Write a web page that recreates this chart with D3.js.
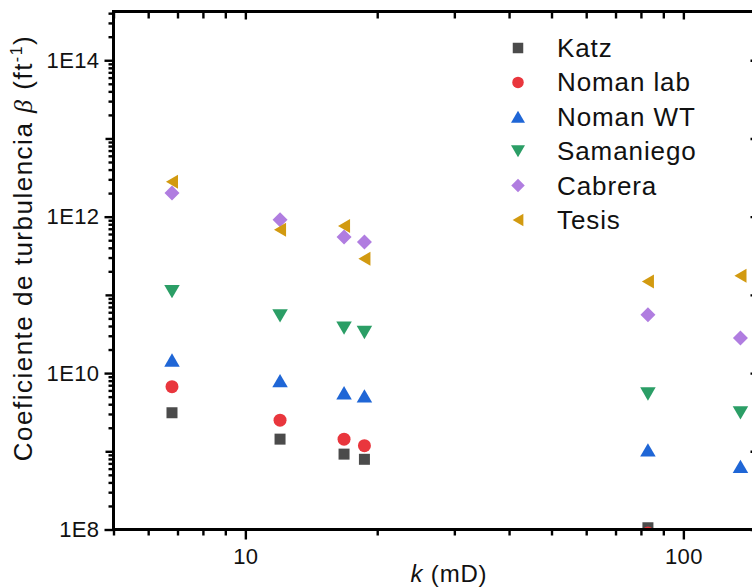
<!DOCTYPE html>
<html>
<head>
<meta charset="utf-8">
<script src="https://cdn.jsdelivr.net/npm/d3@7"></script>
<style>
  html, body { margin: 0; padding: 0; background: #fff; }
  svg { display: block; }
  text { font-family: "Liberation Sans", Arial, sans-serif; fill: #111; }
</style>
</head>
<body>
<svg id="chart" width="752" height="587"></svg>
<script>
// Permeability k (mD) of each sample
const kValues = [6.8, 12, 16.8, 18.7, 83, 135];

// Turbulence coefficient beta (ft^-1) per correlation, one value per sample
const katz      = [3.1e9, 1.43e9, 9.2e8, 7.9e8, 1.05e8, null];
const nomanLab  = [6.7e9, 2.5e9, 1.43e9, 1.18e9, 0.9e8, null];
const nomanWT   = [1.47e10, 8.0e9, 5.6e9, 5.1e9, 1.04e9, 6.4e8];
const samaniego = [1.1e11, 5.4e10, 3.75e10, 3.3e10, 5.4e9, 3.1e9];
const cabrera   = [2.0e12, 9.1e11, 5.5e11, 4.75e11, 5.55e10, 2.8e10];
const tesis     = [2.8e12, 6.8e11, 7.6e11, 2.9e11, 1.48e11, 1.75e11];

const seriesNames = ["Katz", "Noman lab", "Noman WT", "Samaniego", "Cabrera", "Tesis"];

// Axis ticks
const yLabelTicks = [1e8, 1e10, 1e12, 1e14];
const yLabelText  = ["1E8", "1E10", "1E12", "1E14"];
const xLabelTicks = [10, 100];
const xLabelText  = ["10", "100"];

// ---- layout ----
const box = { left: 113.5, right: 760.5, top: 11.5, bottom: 529.5 };

const x = d3.scaleLog().domain([5, 150]).range([box.left, box.right]);
const y = d3.scaleLog().domain([1e8, 4.2e14]).range([box.bottom, box.top]);

const svg = d3.select("#chart");

// marker shapes, centred on the origin
const shapes = {
  square: s => `M${-s/2},${-s/2}h${s}v${s}h${-s}Z`,
  circle: s => d3.symbol(d3.symbolCircle, Math.PI * (s/2) * (s/2))(),
  triUp: s => { const h = s * 0.86; return `M0,${-h/2}L${s/2},${h/2}L${-s/2},${h/2}Z`; },
  triDown: s => { const h = s * 0.86; return `M0,${h/2}L${s/2},${-h/2}L${-s/2},${-h/2}Z`; },
  diamond: s => `M0,${-s/2}L${s/2},0L0,${s/2}L${-s/2},0Z`,
  triLeft: s => { const h = s * 0.86; return `M${-h/2},0L${h/2},${-s/2}L${h/2},${s/2}Z`; }
};

const series = [
  { name: seriesNames[0], values: katz,      shape: "square",  size: 11,   color: "#4b4b4b" },
  { name: seriesNames[1], values: nomanLab,  shape: "circle",  size: 13,   color: "#e9363d" },
  { name: seriesNames[2], values: nomanWT,   shape: "triUp",   size: 15.5, color: "#1f66d6" },
  { name: seriesNames[3], values: samaniego, shape: "triDown", size: 15.5, color: "#2b9e66" },
  { name: seriesNames[4], values: cabrera,   shape: "diamond", size: 15,   color: "#b07de0" },
  { name: seriesNames[5], values: tesis,     shape: "triLeft", size: 14,   color: "#d29a10" }
];

// clip region for the plotted points
svg.append("defs").append("clipPath").attr("id", "plotClip")
  .append("rect")
  .attr("x", box.left).attr("y", box.top)
  .attr("width", box.right - box.left).attr("height", box.bottom - box.top);

// ---- points ----
const pts = svg.append("g").attr("clip-path", "url(#plotClip)");
series.forEach(s => {
  const data = kValues.map((k, i) => ({ k, v: s.values[i] })).filter(d => d.v != null);
  pts.selectAll(null).data(data).enter().append("path")
    .attr("d", shapes[s.shape](s.size))
    .attr("transform", d => `translate(${x(d.k)},${y(d.v)})`)
    .attr("fill", s.color);
});

// ---- axes ----
function minorTicks(lo, hi) {
  const out = [];
  for (let e = Math.floor(Math.log10(lo)); e <= Math.ceil(Math.log10(hi)); e++) {
    for (let m = 2; m <= 9; m++) {
      const v = m * Math.pow(10, e);
      if (v >= lo && v <= hi) out.push(v);
    }
  }
  return out;
}
const decadeTicks = (lo, hi) => d3.range(Math.ceil(Math.log10(lo)), Math.floor(Math.log10(hi)) + 1).map(e => Math.pow(10, e));

const xMinor = minorTicks(5, 150).filter(v => !xLabelTicks.includes(v));
const yMinor = minorTicks(1e8, 4.2e14);
const yDecades = decadeTicks(1e8, 4.2e14);
const yOddDecades = yDecades.filter(v => !yLabelTicks.includes(v));

function styleAxis(g) {
  g.select(".domain").remove();
  g.selectAll(".tick line").attr("stroke", "#000").attr("stroke-width", 2.4);
  g.selectAll(".tick text")
    .style("font-size", "22px").style("letter-spacing", "0.4px").attr("fill", "#111");
}

// left axis
svg.append("g").attr("transform", `translate(${box.left},0)`)
  .call(d3.axisLeft(y).tickValues(yMinor).tickSize(5).tickFormat(""))
  .call(styleAxis);
svg.append("g").attr("transform", `translate(${box.left},0)`)
  .call(d3.axisLeft(y).tickValues(yOddDecades).tickSize(8).tickFormat(""))
  .call(styleAxis);
svg.append("g").attr("transform", `translate(${box.left},0)`)
  .call(d3.axisLeft(y).tickValues(yLabelTicks).tickSize(9).tickPadding(5)
        .tickFormat((d, i) => yLabelText[i]))
  .call(styleAxis);

// right axis (inward ticks)
svg.append("g").attr("transform", `translate(${box.right},0)`)
  .call(d3.axisRight(y).tickValues(yMinor).tickSize(-5).tickFormat(""))
  .call(styleAxis);
svg.append("g").attr("transform", `translate(${box.right},0)`)
  .call(d3.axisRight(y).tickValues(yDecades).tickSize(-10).tickFormat(""))
  .call(styleAxis);

// bottom axis
svg.append("g").attr("transform", `translate(0,${box.bottom})`)
  .call(d3.axisBottom(x).tickValues(xMinor).tickSize(6).tickFormat(""))
  .call(styleAxis);
svg.append("g").attr("transform", `translate(0,${box.bottom})`)
  .call(d3.axisBottom(x).tickValues(xLabelTicks).tickSize(10).tickPadding(9)
        .tickFormat((d, i) => xLabelText[i]))
  .call(styleAxis);

// top axis (inward ticks)
svg.append("g").attr("transform", `translate(0,${box.top})`)
  .call(d3.axisTop(x).tickValues(xMinor).tickSize(-7).tickFormat(""))
  .call(styleAxis);
svg.append("g").attr("transform", `translate(0,${box.top})`)
  .call(d3.axisTop(x).tickValues(xLabelTicks).tickSize(-8).tickFormat(""))
  .call(styleAxis);

// frame
svg.append("rect")
  .attr("x", box.left).attr("y", box.top)
  .attr("width", box.right - box.left).attr("height", box.bottom - box.top)
  .attr("fill", "none").attr("stroke", "#000").attr("stroke-width", 3);

// ---- axis titles ----
const yTitle = svg.append("text")
  .attr("transform", "translate(32,248) rotate(-90)")
  .attr("text-anchor", "middle")
  .style("font-size", "26px").style("letter-spacing", "1.5px");
yTitle.append("tspan").text("Coeficiente de turbulencia ");
yTitle.append("tspan").style("font-style", "italic")
  .style("font-family", "'Liberation Serif', serif").text("β");
yTitle.append("tspan").text(" (ft");
yTitle.append("tspan").attr("dy", "-10").style("font-size", "16px").text("-1");
yTitle.append("tspan").attr("dy", "10").text(")");

const xTitle = svg.append("text")
  .attr("x", 449).attr("y", 582)
  .attr("text-anchor", "middle")
  .style("font-size", "24px").style("letter-spacing", "0.8px");
xTitle.append("tspan").style("font-style", "italic").text("k");
xTitle.append("tspan").text(" (mD)");

// ---- legend ----
const legend = svg.append("g").attr("transform", "translate(518,48)");
const rowGap = 34.4;
series.forEach((s, i) => {
  const row = legend.append("g").attr("transform", `translate(0,${i * rowGap})`);
  row.append("path").attr("d", shapes[s.shape](s.shape === "square" ? 10.5 : s.size - 1.5)).attr("fill", s.color);
  row.append("text").attr("x", 39).attr("y", 9)
    .style("font-size", "26px").style("letter-spacing", "0.9px")
    .text(s.name);
});
</script>
</body>
</html>
